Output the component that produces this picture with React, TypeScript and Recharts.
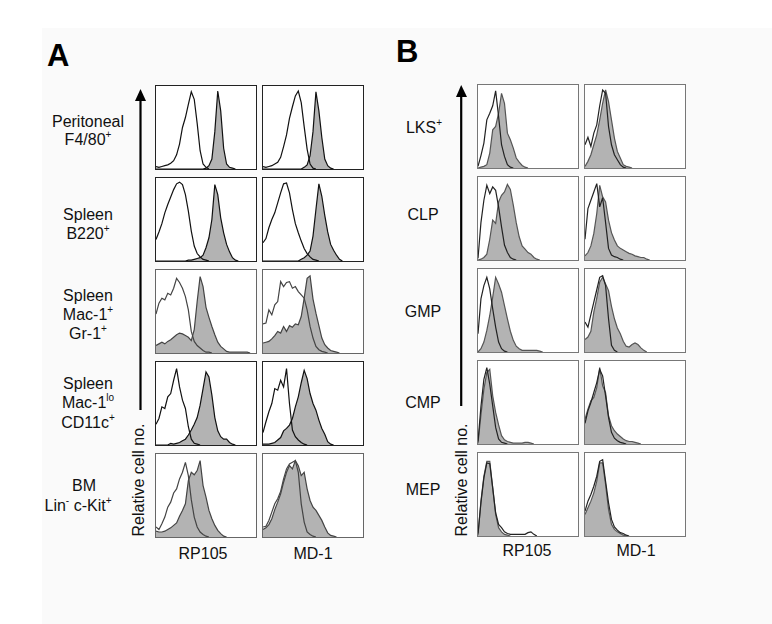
import React from "react";
import { ComposedChart, Area, Line, XAxis, YAxis } from "recharts";

// Histogram bins: 35 bins across each panel (log-fluorescence axis), value = relative cell number (0-100)
// Panel A — rows: Peritoneal F4/80+, Spleen B220+, Spleen Mac-1+Gr-1+, Spleen Mac-1lo CD11c+, BM Lin- c-Kit+
const A1_RP_OPEN = [3, 2, 3, 4, 5, 7, 10, 17, 30, 50, 62, 78, 93, 84, 55, 22, 6, 2, 0];
const A1_RP_FILL = [0, 0, 0, 0, 0, 0, 0, 0, 0, 0, 0, 0, 0, 0, 0, 0, 0, 1, 4, 12, 45, 94, 70, 25, 6, 2, 1, 0];
const A1_MD_OPEN = [3, 2, 3, 4, 6, 8, 14, 27, 41, 61, 75, 88, 94, 80, 51, 24, 6, 1, 0];
const A1_MD_FILL = [0, 0, 0, 0, 0, 0, 0, 0, 0, 0, 0, 0, 0, 0, 2, 5, 16, 45, 93, 70, 38, 12, 4, 1, 0];

const A2_RP_OPEN = [26, 35, 45, 58, 68, 77, 86, 93, 95, 92, 80, 60, 36, 18, 9, 5, 2, 1, 0];
const A2_RP_FILL = [0, 0, 0, 0, 0, 0, 0, 0, 0, 0, 0, 1, 1, 2, 3, 4, 7, 16, 28, 50, 92, 80, 52, 34, 20, 11, 4, 1, 0];
const A2_MD_OPEN = [22, 27, 40, 50, 58, 70, 82, 93, 94, 82, 62, 45, 34, 24, 15, 9, 5, 2, 1, 0];
const A2_MD_FILL = [0, 0, 0, 0, 0, 0, 0, 0, 0, 0, 0, 0, 0, 2, 4, 7, 12, 30, 62, 93, 78, 55, 35, 20, 13, 7, 2, 0];

const A3_RP_OPEN = [47, 60, 66, 64, 72, 70, 78, 90, 85, 78, 68, 52, 26, 14, 9, 6, 3, 1, 1, 0];
const A3_RP_FILL = [9, 11, 13, 11, 14, 16, 19, 22, 24, 23, 21, 19, 15, 28, 62, 92, 80, 55, 43, 32, 22, 13, 8, 5, 2, 1, 1, 1, 1, 1, 1, 1, 0];
const A3_MD_OPEN = [35, 36, 52, 46, 58, 62, 86, 80, 85, 86, 78, 80, 74, 70, 66, 52, 32, 18, 8, 4, 2, 1, 0];
const A3_MD_FILL = [12, 13, 14, 17, 21, 26, 24, 32, 26, 33, 31, 35, 34, 44, 66, 90, 93, 65, 48, 33, 18, 10, 6, 3, 2, 1, 0];

const A4_RP_OPEN = [25, 32, 46, 44, 58, 62, 78, 92, 70, 54, 44, 22, 7, 2, 1, 0];
const A4_RP_FILL = [0, 0, 0, 0, 0, 2, 1, 2, 3, 5, 7, 12, 18, 25, 33, 48, 68, 88, 82, 60, 33, 17, 10, 7, 7, 3, 1, 0];
const A4_MD_OPEN = [15, 28, 40, 50, 68, 66, 78, 70, 92, 50, 18, 10, 6, 3, 1, 0];
const A4_MD_FILL = [1, 1, 1, 2, 3, 6, 9, 17, 20, 24, 32, 46, 58, 75, 90, 80, 62, 50, 42, 30, 20, 13, 4, 1, 0];

const A5_RP_OPEN = [12, 9, 16, 24, 36, 42, 53, 58, 70, 78, 90, 74, 45, 24, 12, 6, 3, 1, 0];
const A5_RP_FILL = [7, 6, 6, 7, 9, 11, 14, 17, 25, 32, 40, 68, 78, 75, 80, 92, 62, 48, 32, 22, 14, 8, 4, 1, 0];
const A5_MD_OPEN = [12, 13, 20, 30, 40, 46, 55, 70, 82, 88, 90, 92, 78, 40, 18, 6, 3, 1, 0];
const A5_MD_FILL = [9, 11, 15, 22, 33, 42, 52, 66, 78, 86, 82, 92, 86, 74, 78, 58, 44, 36, 32, 26, 20, 12, 5, 2, 1, 0];

// Panel B — rows: LKS+, CLP, GMP, CMP, MEP
const B1_RP_OPEN = [2, 15, 30, 58, 66, 75, 93, 62, 28, 14, 4, 1, 0];
const B1_RP_FILL = [0, 1, 2, 4, 18, 46, 50, 66, 90, 78, 42, 34, 24, 12, 7, 3, 1, 0];
const B1_MD_OPEN = [28, 37, 26, 42, 52, 75, 94, 90, 50, 28, 16, 10, 4, 1, 0];
const B1_MD_FILL = [2, 8, 16, 28, 40, 58, 78, 94, 80, 58, 36, 20, 12, 4, 2, 1, 0];

const B2_RP_OPEN = [2, 45, 72, 90, 80, 88, 84, 64, 40, 18, 9, 3, 1, 0];
const B2_RP_FILL = [0, 1, 3, 7, 25, 48, 44, 70, 78, 82, 91, 85, 66, 45, 28, 17, 13, 9, 7, 3, 1, 0];
const B2_MD_OPEN = [25, 62, 72, 82, 92, 64, 75, 45, 14, 6, 4, 3, 1, 0];
const B2_MD_FILL = [5, 9, 17, 32, 56, 90, 76, 70, 48, 33, 24, 17, 14, 12, 10, 8, 7, 5, 4, 3, 3, 1, 0];

const B3_RP_OPEN = [22, 64, 80, 90, 76, 52, 30, 12, 4, 1, 0];
const B3_RP_FILL = [0, 4, 12, 26, 44, 66, 90, 82, 72, 56, 40, 25, 14, 7, 4, 2, 2, 2, 2, 2, 2, 1, 0];
const B3_MD_OPEN = [36, 30, 45, 60, 75, 90, 92, 80, 40, 8, 2, 0];
const B3_MD_FILL = [15, 18, 25, 48, 65, 84, 90, 82, 74, 55, 40, 29, 22, 13, 7, 6, 9, 11, 9, 5, 2, 0];

const B4_RP_OPEN = [3, 45, 78, 92, 72, 46, 20, 6, 2, 1, 0];
const B4_RP_FILL = [1, 35, 66, 86, 90, 58, 38, 23, 10, 5, 3, 2, 1, 1, 1, 1, 2, 2, 1, 0];
const B4_MD_OPEN = [25, 40, 50, 62, 74, 90, 82, 58, 32, 14, 7, 4, 2, 1, 0];
const B4_MD_FILL = [30, 42, 52, 56, 68, 92, 70, 62, 34, 22, 16, 12, 9, 6, 4, 3, 3, 2, 1, 0];

const B5_RP_OPEN = [3, 40, 70, 88, 87, 58, 28, 14, 10, 5, 3, 2, 2, 2, 2, 2, 2, 4, 5, 2, 0];
const B5_RP_FILL = [1, 42, 72, 90, 90, 58, 26, 10, 5, 2, 1, 0];
const B5_MD_OPEN = [30, 42, 50, 60, 72, 90, 92, 66, 40, 20, 11, 7, 4, 3, 1, 0];
const B5_MD_FILL = [26, 34, 42, 52, 66, 88, 88, 62, 32, 14, 8, 5, 3, 1, 0];

const COLUMN_LABELS = ["RP105", "MD-1"];
const Y_LABEL = "Relative cell no.";

const FONT = "'Liberation Sans', Arial, Helvetica, sans-serif";
const FILL_GRAY = "#b3b3b3";

type HistoProps = {
  left: number;
  top: number;
  open: number[];
  filled: number[];
  border: string;
  openColor: string;
  fillStroke: string;
};

function Histo({ left, top, open, filled, border, openColor, fillStroke }: HistoProps) {
  const n = Math.max(open.length, filled.length);
  const rows = Array.from({ length: n }, (_, i) => ({ x: i, open: open[i], filled: filled[i] }));
  return (
    <div
      style={{
        position: "absolute",
        left,
        top,
        width: 102,
        height: 85,
        boxSizing: "border-box",
        border: `1px solid ${border}`,
        background: "#fff",
      }}
    >
      <ComposedChart width={100} height={83} data={rows} margin={{ top: 0, right: 0, bottom: 0, left: 0 }}>
        <XAxis dataKey="x" type="number" domain={[0, 34]} hide allowDataOverflow />
        <YAxis type="number" domain={[0, 100]} hide allowDataOverflow />
        <Area
          dataKey="filled"
          type="linear"
          fill={FILL_GRAY}
          fillOpacity={1}
          stroke={fillStroke}
          strokeWidth={1.2}
          dot={false}
          activeDot={false}
          isAnimationActive={false}
        />
        <Line
          dataKey="open"
          type="linear"
          stroke={openColor}
          strokeWidth={1.2}
          dot={false}
          activeDot={false}
          isAnimationActive={false}
        />
      </ComposedChart>
    </div>
  );
}

const A_TOPS = [85, 177, 269, 361, 453];
const B_TOPS = [84, 176, 268, 360, 452];

const A_ROWS = [
  { rp: [A1_RP_OPEN, A1_RP_FILL], md: [A1_MD_OPEN, A1_MD_FILL], dark: true },
  { rp: [A2_RP_OPEN, A2_RP_FILL], md: [A2_MD_OPEN, A2_MD_FILL], dark: true },
  { rp: [A3_RP_OPEN, A3_RP_FILL], md: [A3_MD_OPEN, A3_MD_FILL], dark: false },
  { rp: [A4_RP_OPEN, A4_RP_FILL], md: [A4_MD_OPEN, A4_MD_FILL], dark: true },
  { rp: [A5_RP_OPEN, A5_RP_FILL], md: [A5_MD_OPEN, A5_MD_FILL], dark: false },
];
const B_ROWS = [
  { rp: [B1_RP_OPEN, B1_RP_FILL], md: [B1_MD_OPEN, B1_MD_FILL] },
  { rp: [B2_RP_OPEN, B2_RP_FILL], md: [B2_MD_OPEN, B2_MD_FILL] },
  { rp: [B3_RP_OPEN, B3_RP_FILL], md: [B3_MD_OPEN, B3_MD_FILL] },
  { rp: [B4_RP_OPEN, B4_RP_FILL], md: [B4_MD_OPEN, B4_MD_FILL] },
  { rp: [B5_RP_OPEN, B5_RP_FILL], md: [B5_MD_OPEN, B5_MD_FILL] },
];

const Sup = ({ t }: { t: string }) => (
  <tspan fontSize={10} dy={-7}>{t}</tspan>
);

export default function App() {
  const panels: React.ReactNode[] = [];
  A_ROWS.forEach((r, i) => {
    const border = r.dark ? "#222" : "#666";
    const col = r.dark ? "#111" : "#444";
    panels.push(
      <Histo key={`a${i}r`} left={155} top={A_TOPS[i]} open={r.rp[0]} filled={r.rp[1]} border={border} openColor={col} fillStroke={col} />,
      <Histo key={`a${i}m`} left={262} top={A_TOPS[i]} open={r.md[0]} filled={r.md[1]} border={border} openColor={col} fillStroke={col} />
    );
  });
  B_ROWS.forEach((r, i) => {
    panels.push(
      <Histo key={`b${i}r`} left={477} top={B_TOPS[i]} open={r.rp[0]} filled={r.rp[1]} border="#777" openColor="#222" fillStroke="#555" />,
      <Histo key={`b${i}m`} left={584} top={B_TOPS[i]} open={r.md[0]} filled={r.md[1]} border="#777" openColor="#222" fillStroke="#555" />
    );
  });

  const txt = { fontFamily: FONT, fontSize: 16, fill: "#111" } as const;

  return (
    <div style={{ position: "absolute", left: 0, top: 0, width: 772, height: 624, background: "#fff", overflow: "hidden" }}>
      <div style={{ position: "absolute", left: 42, top: 28, width: 730, height: 596, background: "#fafafa" }} />
      <svg width={772} height={624} style={{ position: "absolute", left: 0, top: 0 }}>
        <text x={47} y={66} fontFamily={FONT} fontSize={31} fontWeight="bold" fill="#000">A</text>
        <text x={396} y={62} fontFamily={FONT} fontSize={31} fontWeight="bold" fill="#000">B</text>

        {/* Panel A row labels */}
        <g {...txt} textAnchor="middle">
          <text x={88} y={127}>Peritoneal</text>
          <text x={88} y={145}>F4/80<Sup t="+" /></text>
          <text x={88} y={220}>Spleen</text>
          <text x={88} y={239}>B220<Sup t="+" /></text>
          <text x={88} y={301}>Spleen</text>
          <text x={88} y={320}>Mac-1<Sup t="+" /></text>
          <text x={88} y={339}>Gr-1<Sup t="+" /></text>
          <text x={88} y={389}>Spleen</text>
          <text x={88} y={408}>Mac-1<Sup t="lo" /></text>
          <text x={88} y={428}>CD11c<Sup t="+" /></text>
          <text x={84} y={491}>BM</text>
          <text x={78} y={511}>Lin<Sup t="-" /><tspan dy={7}> c-Kit</tspan><Sup t="+" /></text>
        </g>

        {/* Panel B row labels */}
        <g {...txt} textAnchor="middle">
          <text x={424} y={133}>LKS<Sup t="+" /></text>
          <text x={423} y={220}>CLP</text>
          <text x={423} y={317}>GMP</text>
          <text x={423} y={408}>CMP</text>
          <text x={423} y={495}>MEP</text>
        </g>

        {/* Column labels */}
        <g {...txt} textAnchor="middle">
          <text x={203} y={559}>{COLUMN_LABELS[0]}</text>
          <text x={313} y={559}>{COLUMN_LABELS[1]}</text>
          <text x={527} y={556}>{COLUMN_LABELS[0]}</text>
          <text x={636} y={556}>{COLUMN_LABELS[1]}</text>
        </g>

        {/* Y arrows and labels */}
        <line x1={140.5} y1={98} x2={140.5} y2={410} stroke="#000" strokeWidth={2.2} />
        <polygon points="135,101 146,101 140.5,89" fill="#000" />
        <text {...txt} textAnchor="middle" transform="translate(144,480) rotate(-90)">{Y_LABEL}</text>

        <line x1={461.2} y1={94} x2={461.2} y2={406} stroke="#000" strokeWidth={2.2} />
        <polygon points="456,97 467,97 461.2,85" fill="#000" />
        <text {...txt} textAnchor="middle" transform="translate(466.5,480) rotate(-90)">{Y_LABEL}</text>
      </svg>
      {panels}
    </div>
  );
}
